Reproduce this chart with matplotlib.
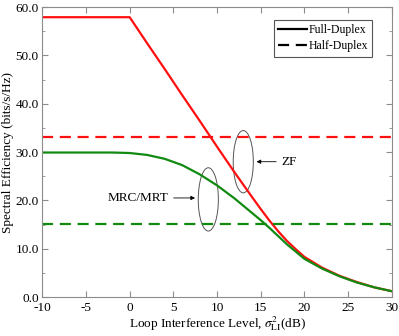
import matplotlib
matplotlib.use('Agg')
import matplotlib.pyplot as plt
from matplotlib.patches import Ellipse
from matplotlib.lines import Line2D

# loop interference level (dB)
li_db = [-10, -5, -2, 0, 2, 4, 6, 8, 10, 12, 14, 15, 16, 17, 18, 19, 20, 22, 24, 26, 28, 30]

# full-duplex spectral efficiency (bits/s/Hz)
zf_fd = [57.9, 57.9, 57.9, 57.9, 52.5, 47.2, 41.8, 36.5, 31.1, 25.8, 20.7, 18.2,
         15.8, 13.6, 11.6, 9.9, 8.3, 6.1, 4.4, 3.1, 2.0, 1.2]
mrc_fd = [29.9, 29.9, 29.9, 29.8, 29.4, 28.6, 27.3, 25.4, 23.1, 20.4, 17.4, 15.9,
          14.3, 12.6, 10.9, 9.4, 7.9, 5.9, 4.3, 3.0, 2.0, 1.2]

# half-duplex spectral efficiency (bits/s/Hz)
zf_hd = 33.2
mrc_hd = 15.2

red = '#ff1010'
green = '#128a12'
grey = '#8c8c8c'

plt.rcParams['font.family'] = ['Liberation Serif', 'DejaVu Serif']
plt.rcParams['mathtext.fontset'] = 'stix'
plt.rcParams['axes.unicode_minus'] = False

fig = plt.figure(figsize=(3.99, 3.36), dpi=100)
ax = fig.add_axes([0.106, 0.116, 0.876, 0.863])

ax.plot(li_db, zf_fd, color=red, lw=1.6)
ax.plot(li_db, mrc_fd, color=green, lw=1.6)
ax.axhline(zf_hd, color=red, lw=1.6, ls=(0, (5, 3)))
ax.axhline(mrc_hd, color=green, lw=1.6, ls=(0, (5, 3)))

ax.set_xlim(-10, 30)
ax.set_ylim(0, 60)
ax.set_xticks(range(-10, 31, 5))
ax.set_yticks(range(0, 61, 10))
ax.set_yticks(range(5, 60, 10), minor=True)
ax.set_yticklabels([f'{v:.1f}' for v in range(0, 61, 10)])

for s in ax.spines.values():
    s.set_color(grey)
ax.tick_params(which='both', direction='in', top=True, right=True,
               color=grey, labelsize=9.5)
ax.tick_params(axis='x', pad=3.5)
ax.tick_params(axis='y', pad=2.5)
ax.tick_params(which='major', length=4)
ax.tick_params(which='minor', length=2.5)

ax.set_xlabel(r'Loop Interference Level, $\sigma^2_{\rm LI}$(dB)', fontsize=9.5, labelpad=0)
ax.set_ylabel('Spectral Efficiency (bits/s/Hz)', fontsize=9.5, labelpad=1)

# ellipses with labels
ax.add_patch(Ellipse((13.0, 28.0), 2.3, 12.9, fill=False, ec='#555555', lw=0.7))
ax.add_patch(Ellipse((9.0, 20.2), 2.3, 13.1, fill=False, ec='#555555', lw=0.7))
ax.annotate('ZF', xy=(14.2, 28.0), xytext=(17.4, 28.0), fontsize=9.5, va='center',
            arrowprops=dict(arrowstyle='-|>', color='black', lw=0.6, mutation_scale=6))
ax.annotate('MRC/MRT', xy=(7.8, 20.5), xytext=(4.4, 20.5), fontsize=9.5,
            va='center', ha='right',
            arrowprops=dict(arrowstyle='-|>', color='black', lw=0.6, mutation_scale=6))

handles = [Line2D([], [], color='black', lw=1.6),
           Line2D([], [], color='black', lw=1.6, ls=(0, (5, 3)))]
leg = ax.legend(handles, ['Full-Duplex', 'Half-Duplex'], loc='upper right',
                fontsize=8.5, fancybox=False, framealpha=1, edgecolor='#555555',
                handlelength=2.4, handletextpad=0.15, borderpad=0.35,
                labelspacing=0.35, bbox_to_anchor=(0.96, 0.975))
leg.get_frame().set_linewidth(0.8)

fig.savefig('out.png', dpi=100)
